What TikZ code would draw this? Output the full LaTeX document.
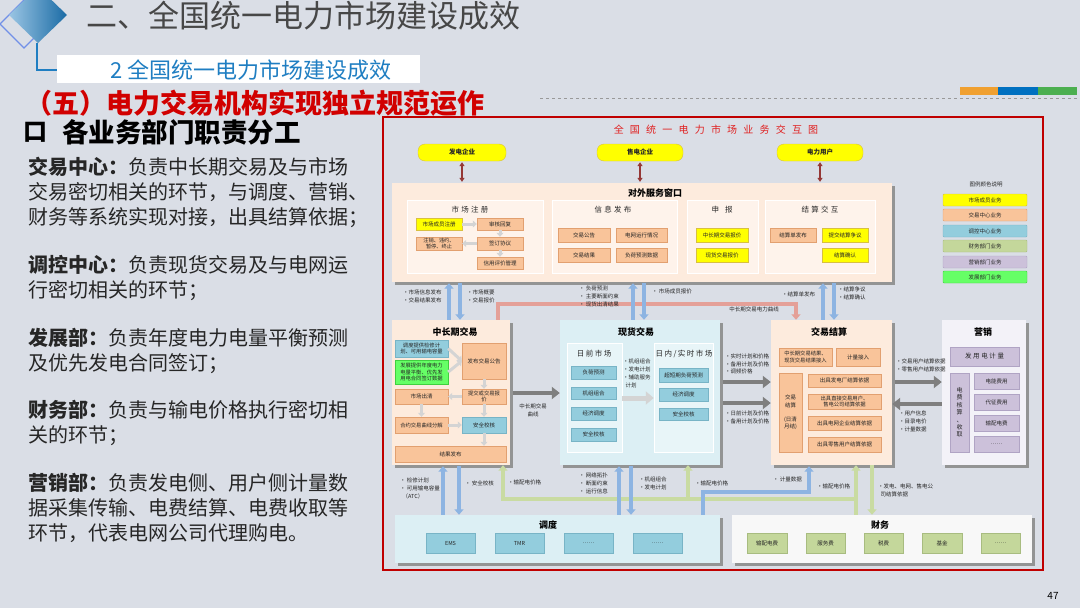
\documentclass[tikz,border=0pt]{standalone}
\usepackage{fontspec}
\setmainfont{Noto Sans CJK SC}
\usetikzlibrary{arrows.meta,shadows,calc}
\definecolor{bg}{HTML}{DADEE6}
\definecolor{cred}{HTML}{C00000}
\definecolor{ctitle}{HTML}{E02020}
\definecolor{cyel}{HTML}{FFFF00}
\definecolor{cyelD}{HTML}{D8C040}
\definecolor{corg}{HTML}{F9C49A}
\definecolor{corgD}{HTML}{E2A070}
\definecolor{cteal}{HTML}{93CDDD}
\definecolor{ctealD}{HTML}{78B4C6}
\definecolor{cgrn}{HTML}{66FF66}
\definecolor{cgrnD}{HTML}{40D040}
\definecolor{clav}{HTML}{CCC1DA}
\definecolor{clavD}{HTML}{B0A4C4}
\definecolor{colv}{HTML}{C4D79B}
\definecolor{colvD}{HTML}{A8BC80}
\definecolor{cpeach}{HTML}{FDEBDD}
\definecolor{cpanel}{HTML}{FEF3EB}
\definecolor{ccyan}{HTML}{DCEFF4}
\definecolor{cspan}{HTML}{E8F5F8}
\definecolor{clavL}{HTML}{F3F2F8}
\definecolor{cwhite}{HTML}{F8F8F8}
\definecolor{cshad}{HTML}{8C8C8C}
\definecolor{cblue}{HTML}{8DB4E2}
\definecolor{cgray}{HTML}{7F7F7F}
\definecolor{chol}{HTML}{D4D4D4}
\definecolor{csal}{HTML}{E4A098}
\definecolor{cgl}{HTML}{C9DBA2}
\definecolor{cdred}{HTML}{953735}
\definecolor{ctxt}{HTML}{262626}
\definecolor{csub}{HTML}{1F7EC2}
\definecolor{cbig}{HTML}{D10000}
\definecolor{barO}{HTML}{F0A030}
\definecolor{barB}{HTML}{0070C0}
\definecolor{barG}{HTML}{4CAF50}
\newcommand\myfs[2]{\fontsize{#1}{#2}\selectfont}
\newcommand\lsp[1]{\addfontfeature{LetterSpace=#1}}
\newcommand\bx[7]{%
  \pgfmathsetmacro\bxw{#4-#2}%
  \pgfmathsetmacro\bxh{#5-#3}%
  \node[#6, minimum width=\bxw pt, minimum height=\bxh pt] (#1) at ({(#2+#4)/2},{(#3+#5)/2}) {#7};}
\begin{document}
\begin{tikzpicture}[x=1pt,y=-1pt,
  base/.style={inner sep=0pt, align=center, font=\myfs{5.5}{6.6}, text=ctxt},
  yel/.style={base, fill=cyel, draw=cyelD, line width=0.4pt},
  org/.style={base, fill=corg, draw=corgD, line width=0.4pt},
  teal/.style={base, fill=cteal, draw=ctealD, line width=0.4pt},
  grn/.style={base, fill=cgrn, draw=cgrnD, line width=0.4pt},
  lav/.style={base, fill=clav, draw=clavD, line width=0.4pt},
  olv/.style={base, fill=colv, draw=colvD, line width=0.4pt},
  panel/.style={inner sep=0pt, fill=cpanel, draw=white, line width=0.5pt},
  spanel/.style={inner sep=0pt, fill=cspan, draw=white, line width=0.5pt},
  big/.style={inner sep=0pt, drop shadow={shadow xshift=3pt, shadow yshift=-3pt, fill=cshad, opacity=0.9}},
  btitle/.style={inner sep=0pt, font=\bfseries\myfs{9}{10}, text=black},
  ptitle/.style={inner sep=0pt, font=\myfs{7.5}{8}\lsp{30}, text=ctxt},
  lbl/.style={anchor=north west, inner sep=0pt, align=left, font=\myfs{5.5}{7.8}, text=ctxt},
  barr/.style={draw=cblue, line width=3.8pt, -{Triangle[length=5.5pt,width=9pt]}},
  garr/.style={draw=cgray, line width=4.5pt, -{Triangle[length=8pt,width=12pt]}},
  harr/.style={draw=chol, line width=3pt, -{Triangle[length=4pt,width=7pt]}},
  sarr/.style={draw=csal, line width=3.5pt, -{Triangle[length=5.5pt,width=9pt]}},
  gline/.style={draw=cgl, line width=3.5pt, -{Triangle[length=5.5pt,width=9pt]}},
  rarr/.style={draw=cdred, line width=1.3pt, {Triangle[length=4pt,width=5pt]}-{Triangle[length=4pt,width=5pt]}},
  para/.style={anchor=north west, inner sep=0pt, align=left, font=\myfs{20}{24.8}, text=ctxt}
]
\path[fill=bg] (0,0) rectangle (1080,608);
\useasboundingbox (0,0) rectangle (1080,608);

% ---------- header ----------
\draw[color=cblue!80!blue, line width=1.2pt] (24,0) -- (48,24) -- (24,48) -- (0,24) -- cycle;
\shade[left color=csub!45!white, right color=csub!85!black] (38,-13) -- (67,15) -- (38,43) -- (9,15) -- cycle;
\draw[csub, line width=1.3pt] (37,43) -- (37,70) -- (57,70);
\node[anchor=west, inner sep=0pt, font=\myfs{31}{32}, text=black!72] (h1) at (86,16) {二、全国统一电力市场建设成效};
\bx{subbox}{57}{55}{420}{83}{fill=white, inner sep=0pt}{}
\node[anchor=west, inner sep=0pt, font=\myfs{22}{24}, text=csub] (h2) at (110,70) {2 全国统一电力市场建设成效};
\node[anchor=west, inner sep=0pt, font=\bfseries\myfs{27}{28}, text=cbig] (h3) at (25,103) {（五）电力交易机构实现独立规范运作};
\draw[black!40, dashed, line width=0.6pt] (540,98) -- (1078,98);
\fill[barO] (960,87) rectangle (998,95);
\fill[barB] (998,87) rectangle (1038,95);
\fill[barG] (1038,87) rectangle (1077,95);

% ---------- left text ----------
\node[anchor=west, inner sep=0pt, font=\bfseries\myfs{24}{26}, text=black] (sq) at (23,132) {口};
\node[anchor=west, inner sep=0pt, font=\bfseries\myfs{26.5}{28}, text=black] (h4) at (62,132) {各业务部门职责分工};
\node[para] (p1) at (28,157) {{\bfseries 交易中心：}负责中长期交易及与市场\\交易密切相关的环节，与调度、营销、\\财务等系统实现对接，出具结算依据；};
\node[para] (p2) at (28,255) {{\bfseries 调控中心：}负责现货交易及与电网运\\行密切相关的环节；};
\node[para] (p3) at (28,328) {{\bfseries 发展部：}负责年度电力电量平衡预测\\及优先发电合同签订；};
\node[para] (p4) at (28,400) {{\bfseries 财务部：}负责与输电价格执行密切相\\关的环节；};
\node[para] (p5) at (28,473) {{\bfseries 营销部：}负责发电侧、用户侧计量数\\据采集传输、电费结算、电费收取等\\环节，代表电网公司代理购电。};

% ---------- diagram frame ----------
\draw[cred, line width=1.5pt] (383,117) rectangle (1043,570);
\node[inner sep=0pt, font=\myfs{10}{11}\lsp{62}, text=ctitle] (dt) at (716,130) {全国统一电力市场业务交互图};

% top parties
\bx{gen}{418}{144}{506}{161}{yel, rounded corners=7pt, font=\bfseries\myfs{6.5}{7}}{发电企业}
\bx{ret}{597}{144}{683}{161}{yel, rounded corners=7pt, font=\bfseries\myfs{6.5}{7}}{售电企业}
\bx{usr}{777}{144}{863}{161}{yel, rounded corners=7pt, font=\bfseries\myfs{6.5}{7}}{电力用户}

% service window
\bx{svc}{392}{183}{892}{282}{big, fill=cpeach}{}
\node[btitle] (svct) at (655,193) {对外服务窗口};
\draw[rarr, shorten <=1pt, shorten >=1pt] (gen.south) -- (svc.north -| gen.south);
\draw[rarr, shorten <=1pt, shorten >=1pt] (ret.south) -- (svc.north -| ret.south);
\draw[rarr, shorten <=1pt, shorten >=1pt] (usr.south) -- (svc.north -| usr.south);

\bx{pa}{407}{200}{543}{273}{panel}{}
\bx{pb}{552}{200}{677}{273}{panel}{}
\bx{pc}{687}{200}{758}{273}{panel}{}
\bx{pd}{765}{200}{875}{273}{panel}{}
\node[ptitle] (pat) at (470,210) {市场注册};
\node[ptitle] (pbt) at (613,210) {信息发布};
\node[ptitle, font=\myfs{7.5}{8}\lsp{80}] (pct) at (722,210) {申报};
\node[ptitle] (pdt) at (820,210) {结算交互};

\bx{reg}{416}{218}{462}{230}{yel}{市场成员注册}
\bx{aud}{477}{218}{523}{230}{org}{审核回复}
\bx{sign}{477}{237}{523}{250}{org}{签订协议}
\bx{canc}{416}{237}{462}{250}{org, font=\myfs{5.2}{5.8}}{注销、违约、\\暂停、终止}
\bx{crd}{477}{257}{523}{269}{org}{信用评价管理}
\draw[harr] (reg.east) -- (aud.west);
\draw[harr] (aud.south) -- (sign.north);
\draw[harr] (sign.west) -- (canc.east);
\draw[harr] (sign.south) -- (crd.north);

\bx{ann}{558}{228}{610}{242}{org}{交易公告}
\bx{grid}{616}{228}{667}{242}{org}{电网运行情况}
\bx{rslt}{558}{248}{610}{262}{org}{交易结果}
\bx{load}{616}{248}{667}{262}{org}{负荷预测数据}
\bx{bidm}{696}{228}{748}{242}{yel}{中长期交易报价}
\bx{bids}{696}{248}{748}{262}{yel}{现货交易报价}
\bx{sbill}{770}{228}{816}{242}{org}{结算单发布}
\bx{sdisp}{822}{228}{868}{242}{yel}{提交结算争议}
\bx{sconf}{822}{248}{868}{262}{yel}{结算确认}

% legend
\node[inner sep=0pt, font=\myfs{5.5}{6}, text=ctxt] (lgt) at (986,184) {图例颜色说明};
\bx{lg1}{943}{194}{1027}{206}{yel, rounded corners=1pt}{市场成员业务}
\bx{lg2}{943}{209}{1027}{221}{org, rounded corners=1pt}{交易中心业务}
\bx{lg3}{943}{225}{1027}{237}{teal, rounded corners=1pt}{调控中心业务}
\bx{lg4}{943}{240}{1027}{252}{olv, rounded corners=1pt}{财务部门业务}
\bx{lg5}{943}{256}{1027}{268}{lav, rounded corners=1pt}{营销部门业务}
\bx{lg6}{943}{271}{1027}{283}{grn, rounded corners=1pt}{发展部门业务}

% ---------- middle row ----------
\bx{zcq}{392}{320}{510}{465}{big, fill=cpeach}{}
\bx{spot}{560}{320}{720}{465}{big, fill=ccyan}{}
\bx{settle}{771}{320}{892}{465}{big, fill=cpeach}{}
\bx{mkt}{942}{320}{1026}{465}{big, fill=clavL}{}
\node[btitle] (zcqt) at (455,332) {中长期交易};
\node[btitle] (spott) at (636,332) {现货交易};
\node[btitle] (settlet) at (829,332) {交易结算};
\node[btitle] (mktt) at (983,332) {营销};

% 中长期交易 inner
\bx{dbox}{395}{340}{448}{357}{teal, font=\myfs{5.3}{6.2}}{调度提供检修计\\划、可用输电容量}
\bx{gbox}{395}{360}{448}{384}{grn, font=\myfs{5.3}{6.8}}{发展提供年度电力\\电量平衡、优先发\\用电合同签订数据}
\bx{pub}{462}{343}{506}{379}{org}{发布交易公告}
\bx{sub}{462}{389}{506}{404}{org, font=\myfs{5.3}{6}}{提交或交易报\\价}
\bx{clr}{395}{389}{448}{404}{org}{市场出清}
\bx{dec}{395}{417}{448}{433}{org, font=\myfs{5.3}{6}}{合约交易曲线分解}
\bx{sec}{462}{417}{506}{433}{teal}{安全校核}
\bx{res}{395}{446}{506}{462}{org}{结果发布}
\draw[harr] (dbox.east) -- (pub.west);
\draw[harr] (gbox.east) -- (pub.west);
\draw[harr] (pub.south) -- (sub.north);
\draw[harr] (sub.west) -- (clr.east);
\draw[harr] (clr.south) -- (dec.north);
\draw[harr] (sub.south) -- (sec.north);
\draw[harr] (dec.east) -- (sec.west);
\draw[harr] (sec.south) -- (res.north -| sec.south);

% 现货交易 inner
\bx{dp}{567}{343}{622}{452}{spanel}{}
\bx{rp}{654}{343}{713}{452}{spanel}{}
\node[ptitle, font=\myfs{7.5}{8}\lsp{20}] (dpt) at (594,354) {日前市场};
\node[ptitle, font=\myfs{7.5}{8}\lsp{20}] (rpt) at (684,354) {日内/实时市场};
\bx{sl}{571}{366}{616}{379}{teal}{负荷预测}
\bx{suc}{571}{387}{616}{399}{teal}{机组组合}
\bx{sed}{571}{407}{616}{420}{teal}{经济调度}
\bx{ssc}{571}{428}{616}{441}{teal}{安全校核}
\bx{ruf}{659}{368}{708}{382}{teal}{超短期负荷预测}
\bx{red}{659}{388}{708}{401}{teal}{经济调度}
\bx{rsc}{659}{408}{708}{420}{teal}{安全校核}
\draw[draw=chol, line width=5pt, -{Triangle[length=8pt,width=13pt]}] (dp.east |- 0,398) -- (rp.west |- 0,398);
\node[lbl] (lsp) at (623,359) {•机组组合\\•发电计划\\•辅助服务\\\ \ 计划};

% 交易结算 inner
\bx{sin}{779}{348}{832}{366}{org, font=\myfs{5.3}{6.3}}{中长期交易结果、\\现货交易结果接入}
\bx{smeter}{836}{348}{880}{366}{org}{计量接入}
\bx{stall}{779}{373}{802}{452}{org, font=\myfs{5.5}{7.2}}{交易\\结算\\\\(日清\\月结)}
\bx{sb1}{808}{374}{881}{387}{org}{出具发电厂结算依据}
\bx{sb2}{808}{394}{881}{409}{org, font=\myfs{5.3}{6.2}}{出具直接交易用户、\\售电公司结算依据}
\bx{sb3}{808}{416}{881}{430}{org}{出具电网企业结算依据}
\bx{sb4}{808}{437}{881}{452}{org}{出具零售用户结算依据}

% 营销 inner
\bx{mm}{950}{347}{1019}{366}{lav, font=\myfs{6.5}{7}\lsp{25}}{发用电计量}
\bx{mtall}{950}{373}{969}{452}{lav, font=\myfs{6}{7.4}}{电\\费\\核\\算\\、\\收\\取}
\bx{m1}{974}{373}{1019}{389}{lav}{电能费用}
\bx{m2}{974}{394}{1019}{410}{lav}{代征费用}
\bx{m3}{974}{415}{1019}{431}{lav}{输配电费}
\bx{m4}{974}{436}{1019}{452}{lav}{……}

% ---------- bottom row ----------
\bx{disp}{395}{515}{720}{563}{big, fill=ccyan}{}
\bx{fin}{732}{515}{1032}{563}{big, fill=cwhite}{}
\node[btitle] (dispt) at (548,525) {调度};
\node[btitle] (fint) at (880,525) {财务};
\bx{dems}{426}{533}{475}{553}{teal}{EMS}
\bx{dtmr}{495}{533}{544}{553}{teal}{TMR}
\bx{dx1}{564}{533}{613}{553}{teal}{……}
\bx{dx2}{633}{533}{682}{553}{teal}{……}
\bx{f1}{747}{533}{787}{553}{olv}{输配电费}
\bx{f2}{806}{533}{845}{553}{olv}{服务费}
\bx{f3}{864}{533}{903}{553}{olv}{税费}
\bx{f4}{922}{533}{962}{553}{olv}{基金}
\bx{f5}{981}{533}{1020}{553}{olv}{……}

% ---------- connectors ----------
\coordinate (sa) at (796,304);
\draw[sarr] (zcq.north -| 498,0) |- (sa) -- (settle.north -| 796,0);
\node[lbl, anchor=center] (lsa) at (754,309) {中长期交易电力曲线};

\draw[barr, shorten >=1pt] (zcq.north -| 449,0) -- (svc.south -| 449,0);
\draw[barr, shorten <=1pt] (svc.south -| 460,0) -- (zcq.north -| 460,0);
\draw[barr, shorten >=1pt] (spot.north -| 633,0) -- (svc.south -| 633,0);
\draw[barr, shorten <=1pt] (svc.south -| 644,0) -- (spot.north -| 644,0);
\draw[barr, shorten >=1pt] (settle.north -| 823,0) -- (svc.south -| 823,0);
\draw[barr, shorten <=1pt] (svc.south -| 834,0) -- (settle.north -| 834,0);

\node[lbl] (l1) at (403,290) {•市场信息发布\\•交易结果发布};
\node[lbl] (l2) at (467,290) {•市场概要\\•交易报价};
\node[lbl] (l3) at (579,286) {•\ 负荷预测\\•\ 主要断面约束\\•\ 现货出清结果};
\node[lbl] (l4) at (652,289) {•\ 市场成员报价};
\node[lbl] (l5) at (782,292) {•结算单发布};
\node[lbl] (l6) at (838,287) {•结算争议\\•结算确认};

\draw[garr, shorten <=3pt] (zcq.east |- 0,393) -- (spot.west |- 0,393);
\node[lbl, align=center, anchor=north] (lzs) at (533,404) {中长期交易\\曲线};
\draw[garr, shorten <=3pt] (spot.east |- 0,382) -- (settle.west |- 0,382);
\draw[garr, shorten <=3pt] (spot.east |- 0,403) -- (settle.west |- 0,403);
\draw[garr, shorten <=3pt] (settle.east |- 0,382) -- (mkt.west |- 0,382);
\draw[garr] (mkt.west |- 0,404) -- (settle.east |- 0,404);
\node[lbl, font=\myfs{5.5}{7.5}] (l8) at (725,354) {•实时计划和价格\\•备用计划及价格\\•调频价格};
\node[lbl, font=\myfs{5.5}{7.5}] (l9) at (725,411) {•日前计划及价格\\•备用计划及价格};
\node[lbl, font=\myfs{5.5}{7.5}] (l10) at (896,359) {•交易用户结算依据\\•零售用户结算依据};
\node[lbl, font=\myfs{5.5}{7.8}] (l11) at (899,411) {•用户信息\\•目录电价\\•计量数据};

% green lines
\coordinate (gj) at (856,499);
\coordinate (gm) at (688,499);
\draw[gline] (fin.north -| 856,0) -- (settle.south -| 856,0);
\draw[gline] (gj) -| (zcq.south -| 503,0);
\draw[gline] (gm) -- (spot.south -| 688,0);
\draw[gline] (settle.south -| 872,0) -- (fin.north -| 872,0);

% blue bottom
\draw[barr, shorten >=1pt] (disp.north -| 443,0) -- (zcq.south -| 443,0);
\draw[barr, shorten <=1pt] (zcq.south -| 459,0) -- (disp.north -| 459,0);
\draw[barr, shorten >=1pt] (disp.north -| 619,0) -- (spot.south -| 619,0);
\draw[barr, shorten <=1pt] (spot.south -| 631,0) -- (disp.north -| 631,0);
\coordinate (bt) at (809,492);
\draw[barr, shorten >=1pt] (disp.north -| 703,0) |- (bt) -- (settle.south -| 809,0);

\node[lbl] (l12) at (400,478) {•\ 检修计划\\•\ 可用输电容量\\\ \ （ATC）};
\node[lbl] (l13) at (465,481) {•\ 安全校核};
\node[lbl] (l14) at (508,480) {•输配电价格};
\node[lbl] (l15) at (579,473) {•\ 网络拓扑\\•\ 断面约束\\•\ 运行信息};
\node[lbl] (l16) at (639,477) {•机组组合\\•发电计划};
\node[lbl] (l17) at (695,481) {•输配电价格};
\node[lbl] (l18) at (773,477) {•\ 计量数据};
\node[lbl] (l19) at (817,484) {•输配电价格};
\node[lbl] (l20) at (878,484) {•发电、电网、售电公\\\ \ 司结算依据};

\node[inner sep=0pt, font=\myfs{10}{11}, text=black] (pg) at (1053,596) {47};
\end{tikzpicture}
\end{document}
